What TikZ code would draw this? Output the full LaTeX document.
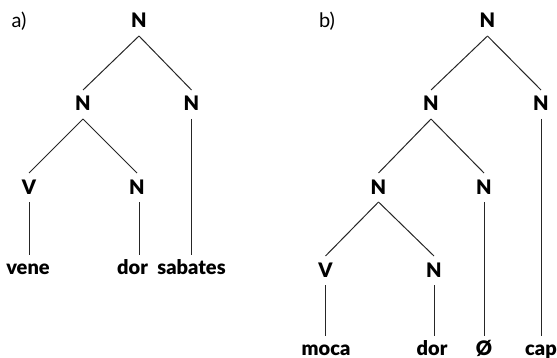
\documentclass[tikz,border=0pt]{standalone}
\usepackage{fontspec}
\setmainfont{Lato}[BoldFont={Lato Black}]
\usetikzlibrary{
  positioning,
  calc}
\tikzset{
  %% cat : a category label in the tree
  cat/.style={
    font=\bfseries,
    inner sep=0pt,
    outer sep=4pt,
    text height=6.5pt,
    text depth=0pt
  },
  %% leaf : a word at the bottom of the tree
  leaf/.style={
    font=\bfseries,
    anchor=base,
    inner sep=0pt,
    outer sep=3pt,
    text height=6.5pt,
    text depth=0pt
  },
  %% panel : the a) and b) labels
  panel/.style={
    anchor=base,
    inner sep=0pt,
    font=\fontsize{10}{12}\selectfont
  },
  %% branch : the lines of the tree
  branch/.style={black!85, line width=0.5pt}
}
\begin{document}
\begin{tikzpicture}
  [x=0.5pt,
  y=-0.5pt,
  font=\fontsize{9.4}{11}\selectfont]

  \useasboundingbox (0, 0) rectangle (557, 358);

  %% Grid for orientation.
  % \draw[help lines, green](0, 0) grid (557, 358);

  %%% a) tree
  \node (label a) [panel] at (19, 28) {a)};

  \node (a top) [cat] at (139, 21.5) {N};
  \node (a left) [cat] at (83, 104.5) {N};
  \node (a right) [cat] at (191.5, 104.5) {N};
  \node (a verb) [cat] at (29, 187.5) {V};
  \node (a noun) [cat] at (137, 187.5) {N};

  \node (vene) [leaf] at (28, 274) {vene};
  \node (dor a) [leaf] at (132.5, 274) {dor};
  \node (sabates) [leaf] at (191.5, 274) {sabates};

  %% Connections
  \draw [branch] (a top.south) -- (a left.north);
  \draw [branch] (a top.south) -- (a right.north);
  \draw [branch] (a left.south) -- (a verb.north);
  \draw [branch] (a left.south) -- (a noun.north);
  \draw [branch] (a verb.south) -- (vene.north -| a verb.south);
  \draw [branch] ($(a noun.south) + (2, 0)$) -- ($(dor a.north -| a noun.south) + (2, 0)$);
  \draw [branch] (a right.south) -- (sabates.north);

  %%% b) tree
  \node (label b) [panel] at (327, 28) {b)};

  \node (b top) [cat] at (487.5, 21.5) {N};
  \node (b left) [cat] at (431, 104.5) {N};
  \node (b right) [cat] at (541, 104.5) {N};
  \node (b mid) [cat] at (378.5, 187.5) {N};
  \node (b zero) [cat] at (484, 187.5) {N};
  \node (b verb) [cat] at (325.5, 270.5) {V};
  \node (b noun) [cat] at (434, 270.5) {N};

  \node (moca) [leaf] at (326, 355) {moca};
  \node (dor b) [leaf] at (432, 355) {dor};
  \node (zero) [leaf] at (484, 355) {Ø};
  \node (cap) [leaf] at (541, 355) {cap};

  %% Connections
  \draw [branch] (b top.south) -- (b left.north);
  \draw [branch] (b top.south) -- (b right.north);
  \draw [branch] (b left.south) -- (b mid.north);
  \draw [branch] (b left.south) -- (b zero.north);
  \draw [branch] (b mid.south) -- (b verb.north);
  \draw [branch] (b mid.south) -- (b noun.north);
  \draw [branch] (b verb.south) -- (moca.north -| b verb.south);
  \draw [branch] (b noun.south) -- (dor b.north -| b noun.south);
  \draw [branch] (b zero.south) -- (zero.north -| b zero.south);
  \draw [branch] (b right.south) -- (cap.north -| b right.south);

\end{tikzpicture}
\end{document}
